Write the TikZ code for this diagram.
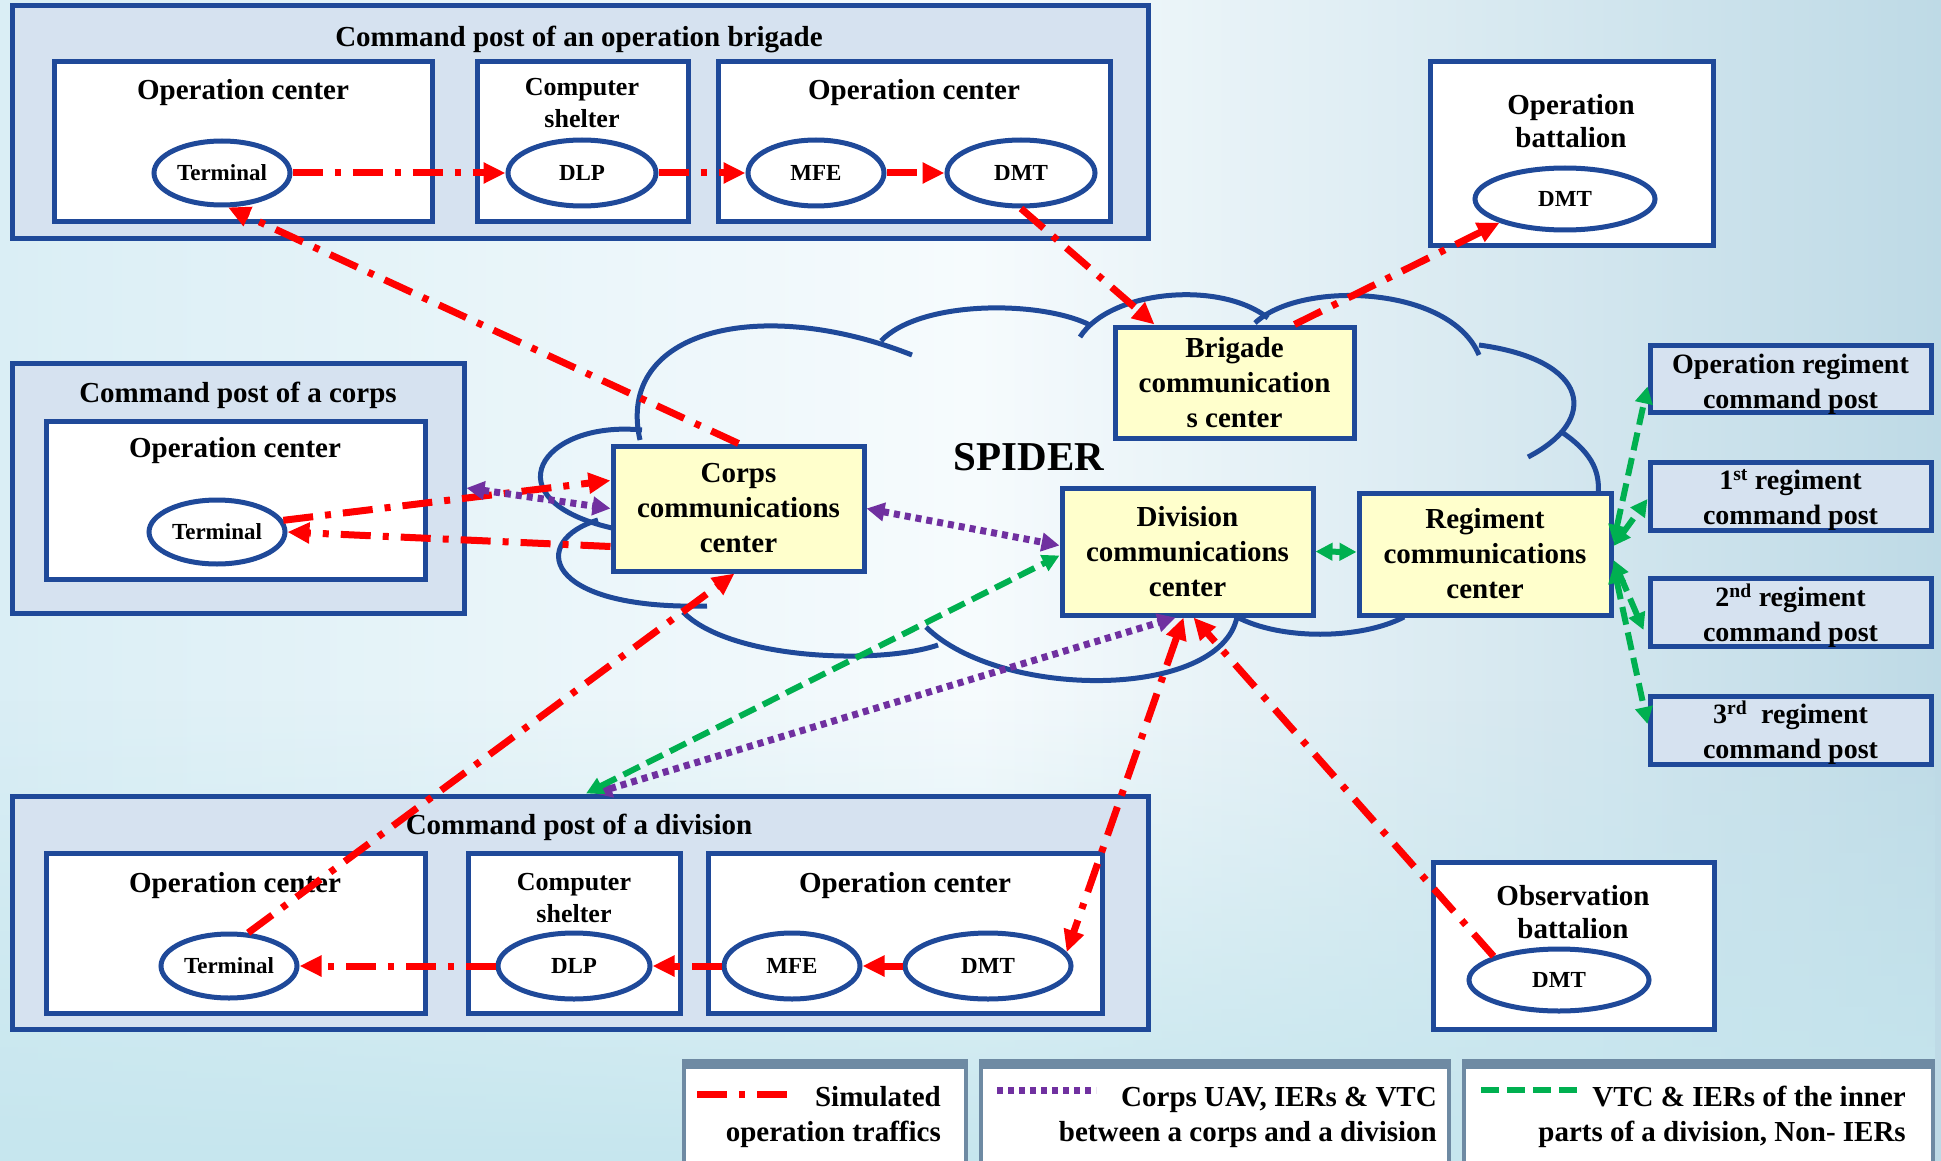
\documentclass[tikz,border=0pt]{standalone}
\usepackage{fontspec}
\setmainfont{Liberation Serif}
\usetikzlibrary{arrows.meta,shapes.geometric,calc,fadings}
\newcommand\myfs[2]{\bfseries\fontsize{#1}{#2}\selectfont}
\definecolor{bblue}{RGB}{31,73,153}
\definecolor{postfill}{RGB}{214,226,240}
\definecolor{yfill}{RGB}{255,255,204}
\definecolor{rred}{RGB}{255,0,0}
\definecolor{ppurple}{RGB}{112,48,160}
\definecolor{ggreen}{RGB}{0,176,80}
\definecolor{lgray}{RGB}{110,138,163}
\definecolor{bgl}{RGB}{218,238,245}
\definecolor{bgm}{RGB}{246,251,253}
\definecolor{bgr}{RGB}{190,218,230}
\definecolor{bgb}{RGB}{198,230,238}
\tikzfading[name=myfade, top color=transparent!100, bottom color=transparent!0]
\begin{document}
\begin{tikzpicture}[x=1pt,y=-1pt,
 post/.style={draw=bblue, line width=5pt, fill=postfill, rectangle, inner sep=0pt},
 wbox/.style={draw=bblue, line width=5pt, fill=white, rectangle, inner sep=0pt},
 rpost/.style={draw=bblue, line width=5pt, fill=postfill, rectangle, inner sep=0pt},
 rtxt/.style={align=center, inner sep=0pt, font=\myfs{28}{35}},
 ybox/.style={draw=bblue, line width=5pt, fill=yfill, rectangle, inner sep=0pt, align=center, font=\myfs{29}{35}},
 ell/.style={draw=bblue, line width=5pt, fill=white, ellipse, inner sep=0pt, font=\myfs{23}{28}},
 ttl/.style={font=\myfs{29}{34}, align=center, inner sep=0pt},
 ttls/.style={font=\myfs{26}{32}, align=center, inner sep=0pt},
 legtxt/.style={font=\myfs{29}{35}, align=right, inner sep=0pt, anchor=east},
 legbox/.style={draw=lgray, line width=4pt, fill=white, rectangle, inner sep=0pt, anchor=north west},
 cloudline/.style={draw=bblue, line width=5pt},
 redpat/.style={draw=rred, line width=7pt, dash pattern=on 30pt off 12pt on 6pt off 12pt},
 redline/.style={redpat, -{Triangle[length=22pt,width=20pt]}},
 redboth/.style={redpat, {Triangle[length=22pt,width=20pt]}-{Triangle[length=22pt,width=20pt]}},
 purpat/.style={draw=ppurple, line width=7pt, dash pattern=on 6pt off 5pt},
 purline/.style={purpat, {Triangle[length=18pt,width=18pt]}-{Triangle[length=18pt,width=18pt]}},
 grnpat/.style={draw=ggreen, line width=6pt, dash pattern=on 18pt off 8pt},
 grnline/.style={grnpat, {Triangle[length=17pt,width=17pt]}-{Triangle[length=17pt,width=17pt]}},
]
\useasboundingbox (0,0) rectangle (1941,1161);
\clip (0,0) rectangle (1941,1161);
% background
\shade[left color=bgl, right color=bgr, middle color=bgm] (0,0) rectangle (1941,1161);
\fill[bgb, path fading=myfade] (0,700) rectangle (1941,1161);

% cloud
\draw[cloudline] (642,430) .. controls (540,420) and (490,500) .. (612,528);
\draw[cloudline] (598,520) .. controls (530,540) and (540,610) .. (707,606);
\draw[cloudline] (640,440) .. controls (615,330) and (760,295) .. (912,355);
\draw[cloudline] (881,341) .. controls (920,300) and (1040,300) .. (1090,325);
\draw[cloudline] (1080,337) .. controls (1110,290) and (1220,280) .. (1268,318);
\draw[cloudline] (1255,323) .. controls (1300,280) and (1450,285) .. (1479,355);
\draw[cloudline] (1479,345) .. controls (1590,360) and (1600,420) .. (1528,457);
\draw[cloudline] (1563,433) .. controls (1595,455) and (1600,475) .. (1598,495);
\draw[cloudline] (1404,617) .. controls (1360,640) and (1280,640) .. (1237,617);
\draw[cloudline] (1237,617) .. controls (1220,700) and (1000,700) .. (926,627);
\draw[cloudline] (938,645) .. controls (880,665) and (730,660) .. (683,612);

% brigade command post
\node[post, minimum width=1136pt, minimum height=233pt] (bpost) at (580,122.5) {};
\node[ttl] (bposttl) at (579,39) {Command post of an operation brigade};
\node[wbox, minimum width=378pt, minimum height=160pt] (boc1) at (243,142) {};
\node[ttl] (boc1tl) at (243,93) {Operation center};
\node[wbox, minimum width=211pt, minimum height=160pt] (bcs) at (582.5,142) {};
\node[ttls] (bcstl) at (582,103) {Computer\\shelter};
\node[wbox, minimum width=392pt, minimum height=160pt] (boc2) at (914,142) {};
\node[ttl] (boc2tl) at (914,93) {Operation center};
\node[ell, minimum width=136pt, minimum height=64pt] (t1) at (222,173) {Terminal};
\node[ell, minimum width=148pt, minimum height=66pt] (dlp1) at (582,173) {DLP};
\node[ell, minimum width=136pt, minimum height=66pt] (mfe1) at (816,173) {MFE};
\node[ell, minimum width=148pt, minimum height=66pt] (dmt1) at (1021,173) {DMT};

% operation battalion
\node[wbox, minimum width=283pt, minimum height=184pt] (obat) at (1571.5,154) {};
\node[ttl, font=\myfs{29}{33}] (obattl) at (1571,121) {Operation\\battalion};
\node[ell, minimum width=180pt, minimum height=62pt] (dmt3) at (1565,199) {DMT};

% corps command post
\node[post, minimum width=452pt, minimum height=250pt] (cpost) at (238,488) {};
\node[ttl] (cposttl) at (238,395) {Command post of a corps};
\node[wbox, minimum width=379pt, minimum height=158pt] (coc) at (235.5,500) {};
\node[ttl] (coctl) at (235,451) {Operation center};
\node[ell, minimum width=136pt, minimum height=64pt] (t2) at (217,532) {Terminal};

% division command post
\node[post, minimum width=1136pt, minimum height=233pt] (dpost) at (580,912.5) {};
\node[wbox, minimum width=379pt, minimum height=160pt] (doc1) at (235.5,933) {};
\node[wbox, minimum width=212pt, minimum height=160pt] (dcs) at (574,933) {};
\node[wbox, minimum width=394pt, minimum height=160pt] (doc2) at (905,933) {};
\node[ttl] (dposttl) at (579,827) {Command post of a division};
\node[ttl] (doc1tl) at (235,886) {Operation center};
\node[ttls] (dcstl) at (574,898) {Computer\\shelter};
\node[ttl] (doc2tl) at (905,886) {Operation center};
\node[ell, minimum width=136pt, minimum height=64pt] (t3) at (229,966) {Terminal};
\node[ell, minimum width=152pt, minimum height=66pt] (dlp2) at (574,966) {DLP};
\node[ell, minimum width=136pt, minimum height=66pt] (mfe2) at (792,966) {MFE};
\node[ell, minimum width=166pt, minimum height=66pt] (dmt2) at (988,966) {DMT};

% observation battalion
\node[wbox, minimum width=281pt, minimum height=167pt] (obs) at (1573.5,945.5) {};
\node[ttl, font=\myfs{29}{33}] (obstl) at (1573,912) {Observation\\battalion};
\node[ell, minimum width=180pt, minimum height=62pt] (dmt4) at (1559,980) {DMT};

% communication centers
\node[ybox, minimum width=239pt, minimum height=111pt] (bcc) at (1234.5,382.5) {Brigade\\communication\\s center};
\node[ybox, minimum width=251pt, minimum height=125pt] (ccc) at (738.5,508.5) {Corps\\communications\\center};
\node[ybox, minimum width=251pt, minimum height=127pt] (dcc) at (1187.5,551.5) {Division\\communications\\center};
\node[ybox, minimum width=252pt, minimum height=122pt] (rcc) at (1485,554) {Regiment\\communications\\center};
\node[font=\myfs{41}{48}, inner sep=0pt] (spider) at (1029,457) {SPIDER};

% regiment posts
\node[rpost, minimum width=281pt, minimum height=67pt] (rp0) at (1790.5,378.5) {};
\node[rpost, minimum width=281pt, minimum height=68pt] (rp1) at (1790.5,496) {};
\node[rpost, minimum width=281pt, minimum height=68pt] (rp2) at (1790.5,612) {};
\node[rpost, minimum width=281pt, minimum height=68pt] (rp3) at (1790.5,730) {};
\node[rtxt] (rp0t) at (1790.5,384) {Operation regiment\\command post};
\node[rtxt] (rp1t) at (1790.5,500) {1\textsuperscript{st} regiment\\command post};
\node[rtxt] (rp2t) at (1790.5,616) {2\textsuperscript{nd} regiment\\command post};
\node[rtxt] (rp3t) at (1790.5,733) {3\textsuperscript{rd}\ \ regiment\\command post};

% legend
\node[legbox, minimum width=282pt, minimum height=120pt] (leg1) at (682,1061) {};
\node[legbox, minimum width=468pt, minimum height=120pt] (leg2) at (979,1061) {};
\node[legbox, minimum width=469pt, minimum height=120pt] (leg3) at (1462,1061) {};
\draw[lgray, line width=10pt] ([yshift=-3pt]leg1.north west) -- ([yshift=-3pt]leg1.north east);
\draw[lgray, line width=10pt] ([yshift=-3pt]leg2.north west) -- ([yshift=-3pt]leg2.north east);
\draw[lgray, line width=10pt] ([yshift=-3pt]leg3.north west) -- ([yshift=-3pt]leg3.north east);
\draw[redpat] (697,1094) -- (796,1094);
\draw[purpat] (997,1090) -- (1096,1090);
\draw[grnpat] (1481,1090) -- (1578,1090);
\node[legtxt] (lt1) at (941,1117) {Simulated\\operation traffics};
\node[legtxt] (lt2) at (1437,1117) {Corps UAV, IERs \& VTC\\between a corps and a division};
\node[legtxt] (lt3) at (1906,1117) {VTC \& IERs of the inner\\parts of a division, Non- IERs};

% red connectors
\draw[redline] (t1.east) -- (dlp1.west);
\draw[redline] (dlp1.east) -- (mfe1.west);
\draw[redline] (mfe1.east) -- (dmt1.west);
\draw[redline] (dmt1.south) -- ($(bcc.north west)+(42,0)$);
\draw[redline] ($(bcc.north west)+(182,0)$) -- (dmt3.south west);
\draw[redline] (ccc.north) -- (t1.-80);
\draw[redline] (t2.10) -- ($(ccc.west)+(0,-28)$);
\draw[redline] ($(ccc.west)+(0,38)$) -- (t2.east);
\draw[redline] (t3.60) -- ($(ccc.south)+(-4,0)$);
\draw[redboth] ($(dcc.south)+(-4,0)$) -- (dmt2.10);
\draw[redline] (dmt4.north west) -- ($(dcc.south)+(6,0)$);
\draw[redline] (dmt2.west) -- (mfe2.east);
\draw[redline] (mfe2.west) -- (dlp2.east);
\draw[redline] (dlp2.west) -- (t3.east);

% purple connectors
\draw[purline] (ccc.east) -- ($(dcc.west)+(0,-6)$);
\draw[purline] (cpost.east) -- (ccc.west);
\draw[purline] ($(dpost.north)+(14,0)$) -- ($(dcc.south)+(-12,0)$);

% green connectors
\draw[grnline] ($(dpost.north)+(6,0)$) -- ($(dcc.west)+(0,4)$);
\draw[grnline] (dcc.east) -- ($(rcc.west)+(0,-2)$);
\draw[grnline] ($(rcc.east)+(0,-12)$) -- ($(rp0.west)+(0,8)$);
\draw[grnline] ($(rcc.east)+(0,-8)$) -- ($(rp1.west)+(0,3)$);
\draw[grnline] ($(rcc.east)+(0,6)$) -- ($(rp2.west)+(-4,18)$);
\draw[grnline] ($(rcc.east)+(0,12)$) -- ($(rp3.west)+(0,-6)$);
\end{tikzpicture}
\end{document}
